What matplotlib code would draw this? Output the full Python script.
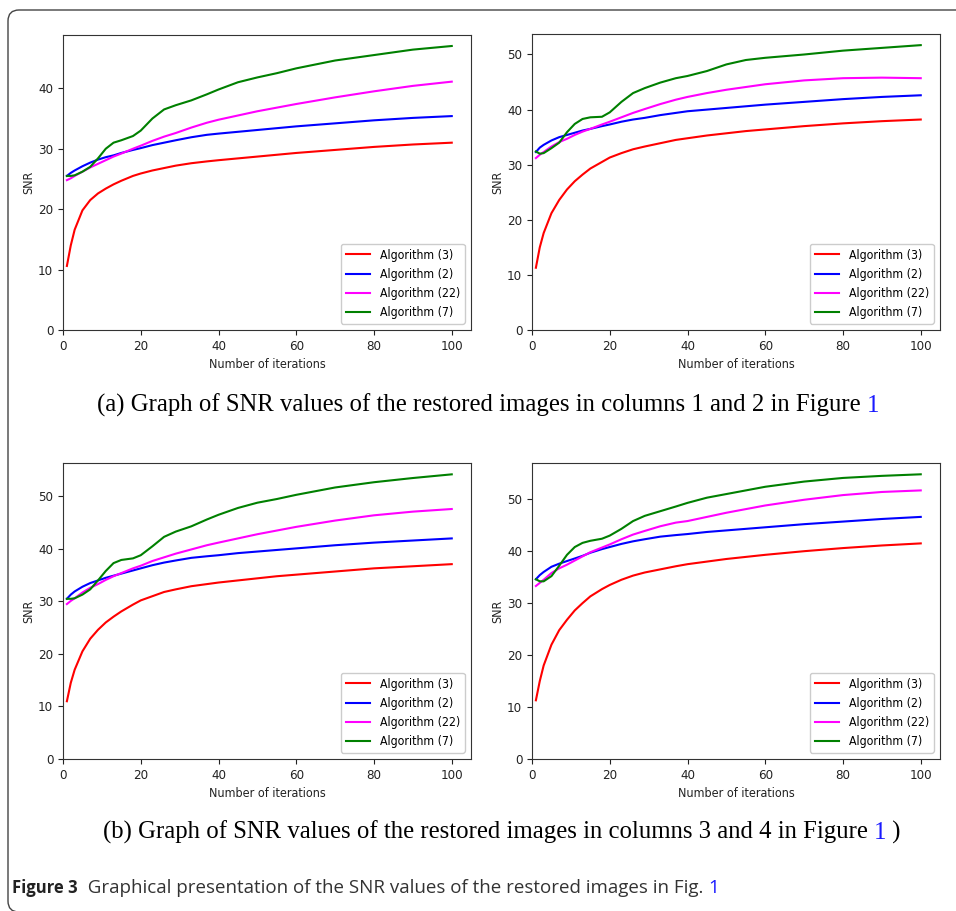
import matplotlib
matplotlib.use("Agg")
import matplotlib.pyplot as plt
from matplotlib.patches import FancyBboxPatch
from matplotlib.transforms import IdentityTransform

plt.rcParams["font.family"] = ["DejaVu Sans"]
plt.rcParams["font.stretch"] = "condensed"

# iteration numbers where the SNR curves were sampled
iters = [1, 2, 3, 5, 7, 9, 11, 13, 15, 18, 20, 23, 26, 29, 33, 37, 40, 45, 50, 55, 60, 70, 80, 90, 100]

labels = ["Algorithm (3)", "Algorithm (2)", "Algorithm (22)", "Algorithm (7)"]
colors = ["red", "blue", "magenta", "green"]

# columns 1 and 2
snr_c1_alg3 = [10.6, 14.0, 16.6, 19.8, 21.5, 22.6, 23.4, 24.1, 24.7, 25.5, 25.9, 26.4, 26.8, 27.2, 27.6, 27.9, 28.1, 28.4, 28.7, 29.0, 29.3, 29.8, 30.3, 30.7, 31.0]
snr_c1_alg2 = [25.5, 26.0, 26.4, 27.1, 27.7, 28.2, 28.6, 28.9, 29.3, 29.8, 30.1, 30.6, 31.0, 31.4, 31.9, 32.3, 32.5, 32.8, 33.1, 33.4, 33.7, 34.2, 34.7, 35.1, 35.4]
snr_c1_alg22 = [24.8, 25.1, 25.5, 26.2, 26.9, 27.5, 28.1, 28.7, 29.2, 30.0, 30.5, 31.3, 32.0, 32.6, 33.5, 34.3, 34.8, 35.5, 36.2, 36.8, 37.4, 38.5, 39.5, 40.4, 41.1]
snr_c1_alg7 = [25.5, 25.5, 25.6, 26.2, 27.0, 28.4, 30.0, 31.0, 31.4, 32.1, 33.0, 35.0, 36.5, 37.2, 38.0, 39.0, 39.8, 41.0, 41.8, 42.5, 43.3, 44.6, 45.5, 46.4, 47.0]

snr_c2_alg3 = [11.3, 15.0, 17.6, 21.2, 23.6, 25.5, 27.0, 28.2, 29.3, 30.5, 31.3, 32.1, 32.8, 33.3, 33.9, 34.5, 34.8, 35.3, 35.7, 36.1, 36.4, 37.0, 37.5, 37.9, 38.2]
snr_c2_alg2 = [32.3, 33.1, 33.6, 34.4, 35.0, 35.4, 35.8, 36.2, 36.5, 37.0, 37.3, 37.8, 38.2, 38.5, 39.0, 39.4, 39.7, 40.0, 40.3, 40.6, 40.9, 41.4, 41.9, 42.3, 42.6]
snr_c2_alg22 = [31.2, 31.8, 32.3, 33.3, 34.1, 34.7, 35.4, 36.0, 36.5, 37.3, 37.8, 38.6, 39.4, 40.1, 41.0, 41.8, 42.3, 43.0, 43.6, 44.1, 44.6, 45.3, 45.7, 45.8, 45.7]
snr_c2_alg7 = [32.4, 32.0, 32.1, 33.0, 34.0, 35.9, 37.4, 38.3, 38.6, 38.7, 39.5, 41.4, 43.0, 43.9, 44.9, 45.7, 46.1, 47.0, 48.2, 49.0, 49.4, 50.0, 50.7, 51.2, 51.7]

# columns 3 and 4
snr_c3_alg3 = [11.0, 14.5, 17.0, 20.5, 22.9, 24.6, 26.0, 27.1, 28.1, 29.4, 30.2, 31.0, 31.8, 32.3, 32.9, 33.3, 33.6, 34.0, 34.4, 34.8, 35.1, 35.7, 36.3, 36.7, 37.1]
snr_c3_alg2 = [30.5, 31.3, 31.9, 32.8, 33.5, 34.0, 34.5, 34.9, 35.3, 35.9, 36.3, 36.9, 37.4, 37.8, 38.3, 38.6, 38.8, 39.2, 39.5, 39.8, 40.1, 40.7, 41.2, 41.6, 42.0]
snr_c3_alg22 = [29.5, 30.1, 30.6, 31.7, 32.6, 33.3, 34.1, 34.8, 35.4, 36.3, 36.8, 37.7, 38.4, 39.1, 39.9, 40.7, 41.2, 42.0, 42.8, 43.5, 44.2, 45.4, 46.4, 47.1, 47.6]
snr_c3_alg7 = [30.5, 30.5, 30.6, 31.3, 32.3, 34.0, 35.8, 37.3, 37.9, 38.2, 38.8, 40.5, 42.3, 43.3, 44.3, 45.6, 46.5, 47.8, 48.8, 49.5, 50.3, 51.7, 52.7, 53.5, 54.2]

snr_c4_alg3 = [11.3, 15.0, 18.0, 22.0, 24.8, 26.8, 28.6, 30.0, 31.3, 32.7, 33.5, 34.5, 35.3, 35.9, 36.5, 37.1, 37.5, 38.0, 38.5, 38.9, 39.3, 40.0, 40.6, 41.1, 41.5]
snr_c4_alg2 = [34.6, 35.4, 36.0, 37.0, 37.6, 38.1, 38.6, 39.1, 39.7, 40.4, 40.8, 41.4, 41.9, 42.3, 42.8, 43.1, 43.3, 43.7, 44.0, 44.3, 44.6, 45.2, 45.7, 46.2, 46.6]
snr_c4_alg22 = [33.3, 33.9, 34.5, 35.8, 36.7, 37.4, 38.2, 39.0, 39.8, 40.7, 41.3, 42.3, 43.2, 43.9, 44.8, 45.5, 45.8, 46.6, 47.4, 48.1, 48.8, 49.9, 50.8, 51.4, 51.7]
snr_c4_alg7 = [34.6, 34.2, 34.2, 35.2, 37.2, 39.3, 40.8, 41.6, 42.0, 42.4, 43.0, 44.3, 45.8, 46.8, 47.7, 48.6, 49.3, 50.3, 51.0, 51.7, 52.4, 53.4, 54.1, 54.5, 54.8]

panels = [
    [snr_c1_alg3, snr_c1_alg2, snr_c1_alg22, snr_c1_alg7],
    [snr_c2_alg3, snr_c2_alg2, snr_c2_alg22, snr_c2_alg7],
    [snr_c3_alg3, snr_c3_alg2, snr_c3_alg22, snr_c3_alg7],
    [snr_c4_alg3, snr_c4_alg2, snr_c4_alg22, snr_c4_alg7],
]

W, H = 956, 911
fig = plt.figure(figsize=(W / 100, H / 100), dpi=100)

# rounded frame around the figure block (pixel coords, origin bottom-left)
frame = FancyBboxPatch((8, -1), 970, H - 10 + 1,
                       boxstyle="round,pad=0,rounding_size=11",
                       transform=IdentityTransform(), fill=False,
                       edgecolor="#444444", linewidth=1.0, clip_on=False)
fig.patches.append(frame)

# axes boxes in pixels: left, top, right, bottom
boxes = [(63, 35, 471, 330), (532, 34, 940, 330),
         (63, 463, 471, 759), (532, 463, 940, 759)]

for (l, t, r, b), series in zip(boxes, panels):
    ax = fig.add_axes([l / W, (H - b) / H, (r - l) / W, (b - t) / H])
    for vals, c, lab in zip(series, colors, labels):
        ax.plot(iters, vals, color=c, lw=1.5, label=lab)
    ax.set_xlim(left=0)
    ax.set_ylim(bottom=0)
    ax.set_xticks([0, 20, 40, 60, 80, 100])
    ax.tick_params(labelsize=9.5, colors="#222222", length=3.5)
    ax.set_xlabel("Number of iterations", fontsize=9, color="#222222")
    ax.set_ylabel("SNR", fontsize=9, color="#222222", labelpad=2)
    for s in ax.spines.values():
        s.set_color("#333333")
    ax.legend(loc="lower right", fontsize=8.8, handlelength=2.0,
              framealpha=1, edgecolor="#cccccc")

serif = "Liberation Serif"
cap_a = fig.text(97 / W, 1 - 405 / H,
                 "(a) Graph of SNR values of the restored images in columns 1 and 2 in Figure ",
                 fontsize=17.8, family=serif, stretch="normal", va="center", ha="left")
plt.annotate("1", xy=(1, 0), xycoords=cap_a, va="bottom", ha="left",
             fontsize=17.8, family=serif, stretch="normal", color="#1a1aff")

cap_b = fig.text(103 / W, 1 - 832 / H,
                 "(b) Graph of SNR values of the restored images in columns 3 and 4 in Figure ",
                 fontsize=17.8, family=serif, stretch="normal", va="center", ha="left")
one_b = plt.annotate("1", xy=(1, 0), xycoords=cap_b, va="bottom", ha="left",
                     fontsize=17.8, family=serif, stretch="normal", color="#1a1aff")
plt.annotate(" )", xy=(1, 0), xycoords=one_b, va="bottom", ha="left",
             fontsize=17.8, family=serif, stretch="normal")

fig3 = fig.text(12 / W, 1 - 888 / H, "Figure 3", fontsize=12, family="Open Sans",
                stretch="normal", weight="bold", color="#222222", va="center", ha="left")
rest = plt.annotate("  Graphical presentation of the SNR values of the restored images in Fig. ",
                    xy=(1, 0), xycoords=fig3, va="bottom", ha="left", stretch="normal",
                    fontsize=13.5, family="Open Sans", color="#333333")
plt.annotate("1", xy=(1, 0), xycoords=rest, va="bottom", ha="left", stretch="normal",
             fontsize=13.5, family="Open Sans", color="#1a1aff")

fig.savefig("out.png", dpi=100)
